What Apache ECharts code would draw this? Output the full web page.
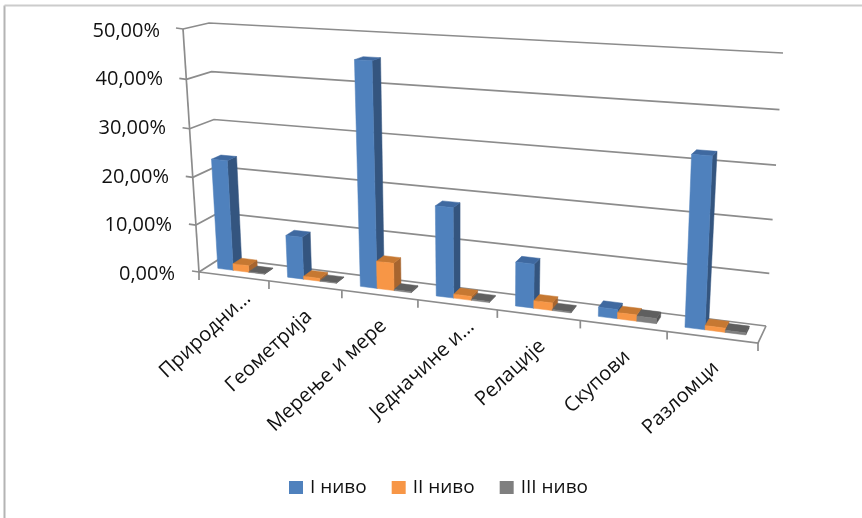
<!DOCTYPE html>
<html>
<head>
<meta charset="utf-8">
<style>html,body{margin:0;padding:0;background:#fff}#chart{width:862px;height:518px}</style>
<script src="https://cdn.jsdelivr.net/npm/echarts@6/dist/echarts.min.js"></script>
</head>
<body>
<div id="chart"></div>
<script>
const categories = ['Природни…', 'Геометрија', 'Мерење и мере', 'Једначине и…', 'Релације', 'Скупови', 'Разломци'];
const levelOne = [23.2, 8.8, 45.4, 18.1, 8.7, 1.8, 32.2];
const levelTwo = [1.4, 0.6, 5.6, 0.8, 1.5, 1.2, 0.8];
const levelThree = [0.1, 0.1, 0.2, 0.2, 0.2, 1.0, 0.4];
const valueTicks = [0, 10, 20, 30, 40, 50];

const FONT = '"Open Sans", sans-serif';
const GRID = { left: 199, top: 29, width: 559, height: 243 };

// Corners of the plot box on screen: [along, depth, height]
const box = {
  '000': [199, 272], '100': [758, 343], '010': [221, 258], '110': [766, 326],
  '001': [183, 29],  '101': [771, 62],  '011': [209, 23],  '111': [783, 53]
};
const perspU = 1.165, perspV = 1.045;

function foreshorten(t, w) { return t / (t + w * (1 - t)); }

// Trilinear placement of a box point, with foreshortening along the width and height
function project(u, d, v) {
  const s = foreshorten(u, perspU), h = foreshorten(v, perspV);
  const out = [0, 0];
  for (const a of [0, 1]) for (const b of [0, 1]) for (const c of [0, 1]) {
    const wgt = (a ? s : 1 - s) * (b ? d : 1 - d) * (c ? h : 1 - h);
    const p = box['' + a + b + c];
    out[0] += wgt * p[0];
    out[1] += wgt * p[1];
  }
  return out;
}

function toUnit(px) {
  return [(px[0] - GRID.left) / GRID.width, (GRID.top + GRID.height - px[1]) / GRID.height];
}

const BAR_GAP = 0.16, BAR_WIDTH = 0.225, DEPTH_FRONT = 0.36, DEPTH_BACK = 0.76;

function barSeries(name, values, slot, colors) {
  return {
    type: 'custom',
    name,
    silent: true,
    clip: false,
    itemStyle: { color: colors.front },
    data: values.map((v, i) => [i, v]),
    renderItem(params, api) {
      const centre = api.coord([api.value(0), api.value(1)]);
      const band = api.size([1, 0])[0];
      const x0 = centre[0] - band / 2 + band * (BAR_GAP + slot * BAR_WIDTH);
      const x1 = x0 + band * BAR_WIDTH;
      const u0 = toUnit([x0, 0])[0], u1 = toUnit([x1, 0])[0];
      const top = toUnit(centre)[1];
      const pt = (u, d, v) => project(u, d, v);
      const face = (points, fill) => ({
        type: 'polygon',
        shape: { points },
        style: { fill, stroke: fill, lineWidth: 0.5 }
      });
      return {
        type: 'group',
        children: [
          face([pt(u1, DEPTH_FRONT, 0), pt(u1, DEPTH_BACK, 0), pt(u1, DEPTH_BACK, top), pt(u1, DEPTH_FRONT, top)], colors.side),
          face([pt(u0, DEPTH_FRONT, top), pt(u1, DEPTH_FRONT, top), pt(u1, DEPTH_BACK, top), pt(u0, DEPTH_BACK, top)], colors.top),
          face([pt(u0, DEPTH_FRONT, 0), pt(u1, DEPTH_FRONT, 0), pt(u1, DEPTH_FRONT, top), pt(u0, DEPTH_FRONT, top)], colors.front)
        ]
      };
    }
  };
}

// Walls, floor and tick marks of the box
const wallSeries = {
  type: 'custom',
  silent: true,
  clip: false,
  z: 1,
  data: valueTicks.map(v => [0, v]),
  renderItem(params, api) {
    const v = toUnit(api.coord([0, api.value(1)]))[1];
    const line = (points) => ({
      type: 'polyline',
      shape: { points },
      style: { fill: null, stroke: '#8c8c8c', lineWidth: 1.7 }
    });
    const a = project(0, 0, v);
    const children = [
      line([a, project(0, 1, v), project(1, 1, v)]),
      line([a, [a[0] - 7, a[1] - 1]])
    ];
    if (params.dataIndex === 0) {
      children.push(
        line([project(1, 1, 0), project(1, 0, 0), a]),
        line([a, project(0, 0, 1)])
      );
    }
    return { type: 'group', children };
  }
};

// Tick marks under the front edge and the slanted category names
const categorySeries = {
  type: 'custom',
  silent: true,
  clip: false,
  z: 1,
  data: categories.map((c, i) => [i, 0]),
  renderItem(params, api) {
    const i = api.value(0);
    const centre = api.coord([i, 0]);
    const band = api.size([1, 0])[0];
    const uL = toUnit([centre[0] - band / 2, 0])[0];
    const uR = toUnit([centre[0] + band / 2, 0])[0];
    const tick = (u) => {
      const p = project(u, 0, 0);
      return {
        type: 'line',
        shape: { x1: p[0], y1: p[1], x2: p[0], y2: p[1] + 8 },
        style: { stroke: '#8c8c8c', lineWidth: 1.7 }
      };
    };
    const mid = project(toUnit(centre)[0], 0, 0);
    // A trailing ellipsis sits on the baseline and reaches further up the slant
    const cut = categories[i].endsWith('…');
    const children = [
      tick(uL),
      {
        type: 'text',
        x: mid[0] + (cut ? 14 : 4),
        y: mid[1] + (cut ? 19 : 28),
        rotation: 43 * Math.PI / 180,
        style: {
          text: categories[i],
          fontFamily: FONT,
          fontSize: 20,
          fill: '#111',
          align: 'right',
          verticalAlign: 'middle'
        }
      }
    ];
    if (i === categories.length - 1) children.push(tick(uR));
    return { type: 'group', children };
  }
};

const slantStyles = {};
valueTicks.forEach(v => {
  slantStyles['t' + v] = {
    fontFamily: FONT,
    fontSize: 20,
    color: '#111',
    padding: [4, v * 0.3, 0, 0]
  };
});

const chart = echarts.init(document.getElementById('chart'), null, { renderer: 'canvas' });
chart.setOption({
  animation: false,
  backgroundColor: '#fff',
  grid: GRID,
  xAxis: { type: 'category', data: categories, show: false },
  yAxis: {
    type: 'value',
    min: 0,
    max: 50,
    interval: 10,
    splitLine: { show: false },
    axisLine: { show: false },
    axisTick: { show: false },
    axisLabel: {
      margin: 24,
      formatter: v => `{t${v}|${v.toFixed(2).replace('.', ',')}%}`,
      rich: slantStyles
    }
  },
  legend: {
    left: 284,
    top: 473,
    itemWidth: 14,
    itemHeight: 13,
    itemGap: 25,
    icon: 'rect',
    selectedMode: false,
    data: ['I ниво', 'II ниво', 'III ниво'],
    textStyle: { fontFamily: FONT, fontSize: 19, color: '#111', padding: [0, 0, 0, 2] }
  },
  graphic: [
    { type: 'line', shape: { x1: 4.5, y1: 5.5, x2: 4.5, y2: 518 }, style: { stroke: '#b4b4b4', lineWidth: 2 } },
    { type: 'line', shape: { x1: 4.5, y1: 5.5, x2: 862, y2: 5.5 }, style: { stroke: '#cccccc', lineWidth: 2 } }
  ],
  series: [
    wallSeries,
    categorySeries,
    barSeries('I ниво', levelOne, 0, { front: '#4F81BD', side: '#34557F', top: '#3F69A0' }),
    barSeries('II ниво', levelTwo, 1, { front: '#F79646', side: '#A7652F', top: '#C67832' }),
    barSeries('III ниво', levelThree, 2, { front: '#7F7F7F', side: '#555555', top: '#5F5F5F' })
  ]
});
</script>
</body>
</html>
